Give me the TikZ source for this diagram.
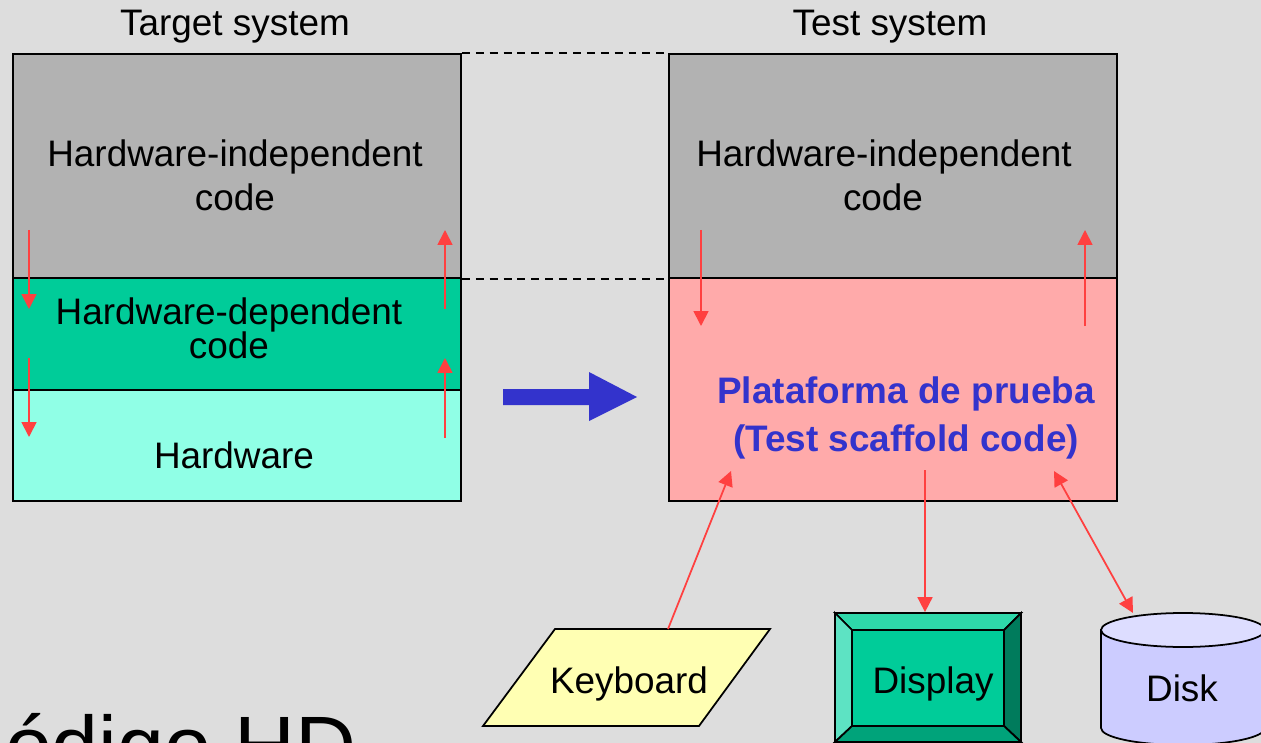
\documentclass[tikz,border=0pt]{standalone}
\usepackage{fontspec}
\setmainfont{Liberation Sans}
\usetikzlibrary{arrows.meta,fit}
\definecolor{bg}{HTML}{DDDDDD}
\definecolor{grayblk}{HTML}{B2B2B2}
\definecolor{hwgreen}{HTML}{00CC99}
\definecolor{hwcyan}{HTML}{90FFE6}
\definecolor{pinkblk}{HTML}{FFAAAA}
\definecolor{redarr}{HTML}{FF4040}
\definecolor{bluearr}{HTML}{3333CC}
\definecolor{kbyellow}{HTML}{FFFFB3}
\definecolor{disktop}{HTML}{DDDDFF}
\definecolor{diskbody}{HTML}{CCCCFF}
\definecolor{bevtop}{HTML}{2ED8AA}
\definecolor{bevleft}{HTML}{5DE3C3}
\definecolor{bevright}{HTML}{007B5C}
\definecolor{bevbottom}{HTML}{00A37A}
\tikzset{
  block/.style={draw=black, line width=1.1pt, inner sep=0pt},
  txt/.style={font=\fontsize{21}{25}\selectfont, inner sep=0pt, anchor=base},
  bluetxt/.style={txt, font=\fontsize{21}{25}\selectfont\bfseries, text=bluearr},
  redarrow/.style={draw=redarr, line width=1pt, -{Triangle[length=8.5pt,width=8.5pt]}},
  redboth/.style={draw=redarr, line width=1pt, {Triangle[length=8.5pt,width=8.5pt]}-{Triangle[length=8.5pt,width=8.5pt]}},
  dashline/.style={draw=black, line width=1.1pt, dash pattern=on 4.5pt off 3.4pt},
  outl/.style={draw=black, line width=1pt, line join=miter}
}
\begin{document}
\begin{tikzpicture}[x=0.02cm,y=-0.02cm]
\useasboundingbox (0,0) rectangle (1261,743);
\fill[bg] (0,0) rectangle (1261,743);

% titles
\node[txt] (tt) at (235,36) {Target system};
\node[txt] (ts) at (890,36) {Test system};

% left stack
\node[block, fill=grayblk, fit={(13,54) (461,278)}] (lhi) {};
\node[block, fill=hwgreen, fit={(13,278) (461,390)}] (lhd) {};
\node[block, fill=hwcyan, fit={(13,390) (461,501)}] (lhw) {};
% right stack
\node[block, fill=grayblk, fit={(669,54) (1117,278)}] (rhi) {};
\node[block, fill=pinkblk, fit={(669,278) (1117,501)}] (rsc) {};

% dashed guide lines
\draw[dashline] (lhi.north east) -- (rhi.north west);
\draw[dashline] (lhi.south east) -- (rhi.south west);

% block texts
\node[txt] (l1a) at (235,167) {Hardware-independent};
\node[txt] (l1b) at (235,211) {code};
\node[txt] (l2a) at (229,324) {Hardware-dependent};
\node[txt] (l2b) at (229,358) {code};
\node[txt] (l3) at (234,468) {Hardware};
\node[txt] (r1a) at (884,167) {Hardware-independent};
\node[txt] (r1b) at (883,211) {code};
\node[bluetxt] (r2a) at (906,403) {Plataforma de prueba};
\node[bluetxt] (r2b) at (906,451) {(Test scaffold code)};

% red arrows inside the stacks
\coordinate (a1s) at (29,230); \coordinate (a1e) at (29,309);
\coordinate (a2s) at (29,358); \coordinate (a2e) at (29,437);
\coordinate (a3s) at (445,309); \coordinate (a3e) at (445,230);
\coordinate (a4s) at (445,438); \coordinate (a4e) at (445,358);
\coordinate (a5s) at (701,230); \coordinate (a5e) at (701,326);
\coordinate (a6s) at (1085,326); \coordinate (a6e) at (1085,230);
\draw[redarrow] (a1s) -- (a1e);
\draw[redarrow] (a2s) -- (a2e);
\draw[redarrow] (a3s) -- (a3e);
\draw[redarrow] (a4s) -- (a4e);
\draw[redarrow] (a5s) -- (a5e);
\draw[redarrow] (a6s) -- (a6e);

% big blue arrow
\fill[bluearr] (503,389) -- (589,389) -- (589,372) -- (637,397) -- (589,421) -- (589,405) -- (503,405) -- cycle;

% keyboard
\filldraw[fill=kbyellow, outl] (555,629) -- (770,629) -- (699,726) -- (483,726) -- cycle;
\node[txt] (kb) at (629,693) {Keyboard};
\coordinate (kbtop) at (668,629);

% display
\node[draw=black, line width=1pt, fill=hwgreen, inner sep=0pt, fit={(835,613) (1021,742)}] (disp) {};
\filldraw[fill=bevtop, outl] (835,613) -- (1021,613) -- (1004,630) -- (852,630) -- cycle;
\filldraw[fill=bevleft, outl] (835,613) -- (852,630) -- (852,726) -- (835,742) -- cycle;
\filldraw[fill=bevright, outl] (1021,613) -- (1004,630) -- (1004,726) -- (1021,742) -- cycle;
\filldraw[fill=bevbottom, outl] (835,742) -- (852,726) -- (1004,726) -- (1021,742) -- cycle;
\node[txt] (displ) at (933,693) {Display};

% disk
\filldraw[fill=diskbody, outl] (1101,630) -- (1101,728) arc[start angle=180, end angle=0, x radius=82, y radius=17] -- (1265,630) -- cycle;
\filldraw[fill=disktop, outl] (1183,630) ellipse [x radius=82, y radius=17];
\node[txt] (diskl) at (1182,701) {Disk};
\coordinate (disktop) at (1133,613);

% connectors to devices
\coordinate (kbin) at (731,471);
\coordinate (dispout) at (925,470);
\coordinate (diskio) at (1054,471);
\draw[redarrow] (kbtop) -- (kbin);
\draw[redarrow] (dispout) -- (disp.north -| dispout);
\draw[redboth] (diskio) -- (disktop);

% cut-off slide title
\node[anchor=base east, font=\fontsize{48}{50}\selectfont, inner sep=0pt] (hd) at (357,775) {ódigo HD};
\end{tikzpicture}
\end{document}
